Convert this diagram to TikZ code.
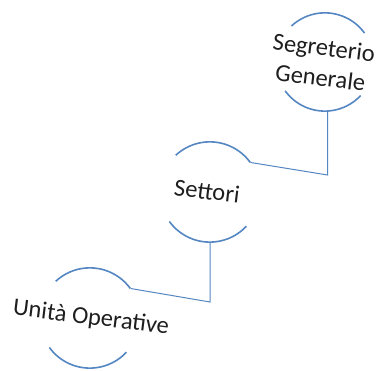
\documentclass[tikz,border=0pt]{standalone}
\usepackage{fontspec}
\setmainfont{Carlito}
\definecolor{arcblue}{RGB}{84,134,194}
\definecolor{txtgray}{RGB}{30,30,30}
\begin{document}
\begin{tikzpicture}[x=1pt,y=1pt,
  lbl/.style={font=\fontsize{24.5}{29}\selectfont, align=center, rotate=-7, inner sep=0, text=txtgray},
  tight/.style={text height=14pt, text depth=2pt},
  ring/.style={draw=none, circle, minimum size=#1, inner sep=0},
  arcline/.style={draw=arcblue, line width=1.6pt},
  link/.style={draw=arcblue, line width=1pt}]
\useasboundingbox (0,0) rectangle (377,370);
% rings (invisible circle nodes) and their labels
\node[ring=98pt] (sg) at (325,308) {};
\node[ring=100pt] (st) at (210,178) {};
\node[ring=100pt] (ua) at (90,52) {};
\node[lbl, tight] (sgt1) at (323.8,320) {Segreterio};
\node[lbl, tight] (sgt2) at (320.2,290) {Generale};
\node[lbl] (stt) at (207,179) {Settori};
\node[lbl] (uat) at (91,52) {Unità Operative};
% arcs
\draw[arcline] (sg.133) arc[start angle=133, end angle=36, radius=49];
\draw[arcline] (sg.-144) arc[start angle=-144, end angle=-43, radius=49];
\draw[arcline] (st.133) arc[start angle=133, end angle=36, radius=50];
\draw[arcline] (st.-144) arc[start angle=-144, end angle=-43, radius=50];
\draw[arcline] (ua.133) arc[start angle=133, end angle=36, radius=50];
\draw[arcline] (ua.-144) arc[start angle=-144, end angle=-43, radius=50];
% connectors
\coordinate (k1) at (0,195);
\coordinate (k2) at (0,68);
\draw[link] (sg.-87) -- (sg.-87 |- k1) -- (st.36);
\draw[link] (st.south) -- (st.south |- k2) -- (ua.36);
\end{tikzpicture}
\end{document}
